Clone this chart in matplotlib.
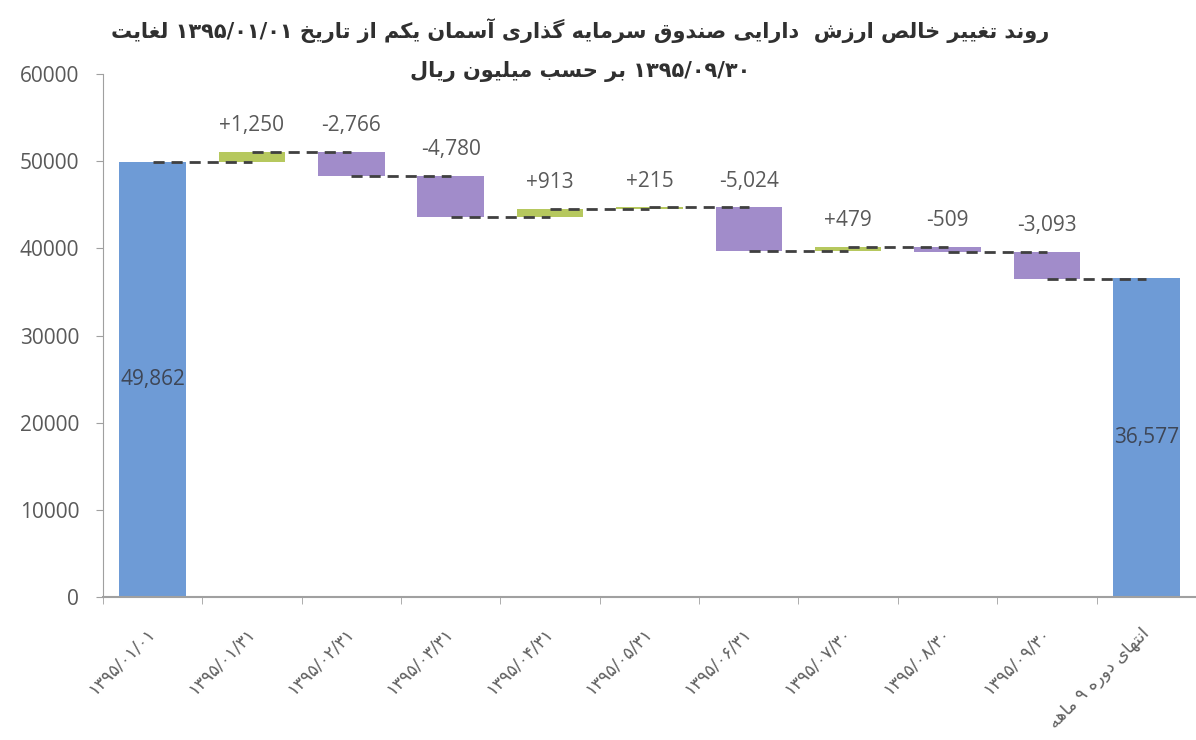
import re
import numpy as np
import matplotlib
matplotlib.use('Agg')
import matplotlib.pyplot as plt

# data (million rial)
start_value = 49862
end_value = 36577
changes = [1250, -2766, -4780, 913, 215, -5024, 479, -509, -3093]
date_labels = ['۱۳۹۵/۰۱/۰۱', '۱۳۹۵/۰۱/۳۱', '۱۳۹۵/۰۲/۳۱', '۱۳۹۵/۰۳/۳۱', '۱۳۹۵/۰۴/۳۱',
               '۱۳۹۵/۰۵/۳۱', '۱۳۹۵/۰۶/۳۱', '۱۳۹۵/۰۷/۳۰', '۱۳۹۵/۰۸/۳۰', '۱۳۹۵/۰۹/۳۰']
end_label = 'انتهای دوره ۹ ماهه'
title_1 = 'روند تغییر خالص ارزش  دارایی صندوق سرمایه گذاری آسمان یکم از تاریخ ۱۳۹۵/۰۱/۰۱ لغایت'
title_2 = '۱۳۹۵/۰۹/۳۰ بر حسب میلیون ریال'
y_ticks = [0, 10000, 20000, 30000, 40000, 50000, 60000]

# minimal persian shaping (presentation forms) + rtl ordering, no bidi lib here
FORMS = {
    'ا': ('\uFE8D', '\uFE8E'), 'آ': ('\uFE81', '\uFE82'),
    'د': ('\uFEA9', '\uFEAA'), 'ذ': ('\uFEAB', '\uFEAC'),
    'ر': ('\uFEAD', '\uFEAE'), 'ز': ('\uFEAF', '\uFEB0'),
    'و': ('\uFEED', '\uFEEE'),
    'ب': ('\uFE8F', '\uFE90', '\uFE91', '\uFE92'),
    'ت': ('\uFE95', '\uFE96', '\uFE97', '\uFE98'),
    'ح': ('\uFEA1', '\uFEA2', '\uFEA3', '\uFEA4'),
    'خ': ('\uFEA5', '\uFEA6', '\uFEA7', '\uFEA8'),
    'س': ('\uFEB1', '\uFEB2', '\uFEB3', '\uFEB4'),
    'ش': ('\uFEB5', '\uFEB6', '\uFEB7', '\uFEB8'),
    'ص': ('\uFEB9', '\uFEBA', '\uFEBB', '\uFEBC'),
    'غ': ('\uFECD', '\uFECE', '\uFECF', '\uFED0'),
    'ق': ('\uFED5', '\uFED6', '\uFED7', '\uFED8'),
    'ل': ('\uFEDD', '\uFEDE', '\uFEDF', '\uFEE0'),
    'م': ('\uFEE1', '\uFEE2', '\uFEE3', '\uFEE4'),
    'ن': ('\uFEE5', '\uFEE6', '\uFEE7', '\uFEE8'),
    'ه': ('\uFEE9', '\uFEEA', '\uFEEB', '\uFEEC'),
    'ی': ('\uFBFC', '\uFBFD', '\uFBFE', '\uFBFF'),
    'ک': ('\uFB8E', '\uFB8F', '\uFB90', '\uFB91'),
    'گ': ('\uFB92', '\uFB93', '\uFB94', '\uFB95'),
}
NUM = r'[۰-۹0-9][۰-۹0-9/,.]*[۰-۹0-9]|[۰-۹0-9]'


def fa(s):
    out = []
    for i, ch in enumerate(s):
        if ch not in FORMS:
            out.append(ch)
            continue
        f = FORMS[ch]
        prev = s[i - 1] if i > 0 else ''
        nxt = s[i + 1] if i + 1 < len(s) else ''
        jp = prev in FORMS and len(FORMS[prev]) == 4
        jn = nxt in FORMS and len(f) == 4
        if jp and jn:
            out.append(f[3])
        elif jp:
            out.append(f[1])
        elif jn:
            out.append(f[2])
        else:
            out.append(f[0])
    shaped = ''.join(out)
    parts = [p for p in re.split('(' + NUM + ')', shaped) if p]
    return ''.join(p if re.fullmatch(NUM, p) else p[::-1] for p in reversed(parts))


c_blue = '#6e9bd6'
c_up = '#b6c85e'
c_down = '#a18cca'
c_text = '#595959'
num_font = ['Open Sans', 'DejaVu Sans']

labels = [fa(t) for t in date_labels] + [fa(end_label)]
n = len(labels)
x = np.arange(n)

fig = plt.figure(figsize=(11.96, 7.4), dpi=100)
ax = fig.add_axes([0.086, 0.193, 0.914, 0.707])

bw = 0.67
ax.bar(0, start_value, width=bw, color=c_blue)
ax.text(0, start_value / 2, f'{start_value:,}', ha='center', va='center',
        fontsize=15, color='#3e4656', family=num_font)

level = start_value
for i, d in enumerate(changes, start=1):
    new = level + d
    ax.bar(i, abs(d), bottom=min(level, new), width=bw,
           color=c_up if d > 0 else c_down)
    ax.plot([i - 1, i], [level, level], ls=(0, (4, 2.5)), color='#404040', lw=2)
    ax.annotate(f'{d:+,}', (i, max(level, new)), xytext=(0, 19),
                textcoords='offset points', ha='center', va='center',
                fontsize=15, color=c_text, family=num_font)
    level = new
ax.plot([n - 2, n - 1], [level, level], ls=(0, (4, 2.5)), color='#404040', lw=2)

ax.bar(n - 1, end_value, width=bw, color=c_blue)
ax.text(n - 1, end_value / 2, f'{end_value:,}', ha='center', va='center',
        fontsize=15, color='#3e4656', family=num_font)

ax.set_xlim(-0.5, n - 0.5)
ax.set_ylim(0, 60000)
ax.set_yticks(y_ticks)
ax.set_yticklabels([str(v) for v in y_ticks], fontsize=15, color=c_text,
                   family=num_font)
ax.tick_params(axis='y', length=5, color='#a0a0a0', pad=12)

ax.set_xticks(x)
ax.set_xticklabels(labels, rotation=45, ha='right', va='center',
                   rotation_mode='anchor', fontsize=12.5, color='#606060',
                   family='DejaVu Sans')
ax.tick_params(axis='x', which='major', length=0, pad=24)
ax.set_xticks(np.arange(-0.5, n, 1.0), minor=True)
ax.tick_params(axis='x', which='minor', length=5, color='#a0a0a0')

for s in ['top', 'right']:
    ax.spines[s].set_visible(False)
ax.spines['left'].set_color('#a0a0a0')
ax.spines['bottom'].set_color('#a0a0a0')
ax.spines['bottom'].set_linewidth(1.5)

fig.text(0.485, 0.959, fa(title_1), ha='center', va='center', fontsize=15,
         fontweight='bold', color='#303030', family='DejaVu Sans')
fig.text(0.485, 0.903, fa(title_2), ha='center', va='center', fontsize=15,
         fontweight='bold', color='#303030', family='DejaVu Sans')

fig.savefig('out.png', dpi=100)
